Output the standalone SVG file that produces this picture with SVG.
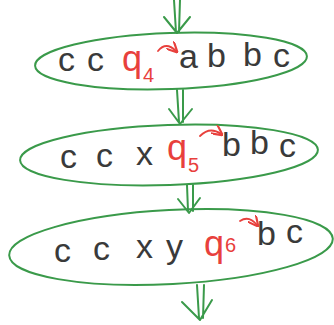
<svg xmlns="http://www.w3.org/2000/svg" width="334" height="325" viewBox="0 0 334 325">
<defs>
<style>
.ell{fill:none;stroke:#3a9a4a;stroke-width:2}
.arr{fill:none;stroke:#3a9a4a;stroke-width:2;stroke-linecap:round;stroke-linejoin:round}
.t{font-family:"Liberation Sans",Arial,sans-serif;font-size:34px;fill:#3a3a3a}
.q{font-family:"Liberation Sans",Arial,sans-serif;font-size:36px;fill:#e8403c}
.s{font-family:"Liberation Sans",Arial,sans-serif;font-size:20px;fill:#e8403c}
.ra{fill:none;stroke:#e8403c;stroke-width:1.8;stroke-linecap:round}
</style>
<marker id="rh" viewBox="0 0 10 10" refX="8" refY="5" markerWidth="6" markerHeight="6" orient="auto">
<path d="M0,0 L10,5 L0,10" fill="none" stroke="#e8403c" stroke-width="2"/>
</marker>
</defs>
<rect width="334" height="325" fill="#ffffff"/>
<g id="connectors">
<path class="arr" d="M174,0 L176,32 M180,0 L179,32 M164,17 L177,33 L190,17"/>
<path class="arr" d="M177,90 L179,122 M183,90 L183,122 M169,109 L180,124 L192,109"/>
<path class="arr" d="M187,185 L188,211 M193,185 L193,211 M178,199 L189,213 L200,198"/>
<path class="arr" d="M197,285 L199,318 M204,285 L203,318 M182,302 L200,320 L212,300"/>
</g>
<g id="node1">
<ellipse class="ell" cx="171" cy="61" rx="136" ry="28" transform="rotate(-2 171 61)"/>
<text class="t" x="58" y="71">c</text>
<text class="t" x="87" y="71">c</text>
<text class="q" x="122" y="71">q</text>
<text class="s" x="143" y="82">4</text>
<path class="ra" d="M158,51 Q166,41 176,51" marker-end="url(#rh)"/>
<text class="t" x="179" y="68">a</text>
<text class="t" x="207" y="67">b</text>
<text class="t" x="243" y="66">b</text>
<text class="t" x="273" y="67">c</text>
</g>
<g id="node2">
<ellipse class="ell" cx="169" cy="155" rx="149" ry="30" transform="rotate(-2 169 155)"/>
<text class="t" x="60" y="168">c</text>
<text class="t" x="96" y="167">c</text>
<text class="t" x="136" y="165">x</text>
<text class="q" x="167" y="160">q</text>
<text class="s" x="188" y="172">5</text>
<path class="ra" d="M200,136 Q210,126 221,134" marker-end="url(#rh)"/>
<text class="t" x="222" y="156">b</text>
<text class="t" x="250" y="154">b</text>
<text class="t" x="279" y="157">c</text>
</g>
<g id="node3">
<ellipse class="ell" cx="171" cy="247" rx="162" ry="37" transform="rotate(-3 171 247)"/>
<text class="t" x="54" y="262">c</text>
<text class="t" x="93" y="260">c</text>
<text class="t" x="136" y="258">x</text>
<text class="t" x="166" y="258">y</text>
<text class="q" x="204" y="256">q</text>
<text class="s" x="225" y="252">6</text>
<path class="ra" d="M240,221 Q249,215 257,225" marker-end="url(#rh)"/>
<text class="t" x="257" y="245">b</text>
<text class="t" x="286" y="243">c</text>
</g>
</svg>
